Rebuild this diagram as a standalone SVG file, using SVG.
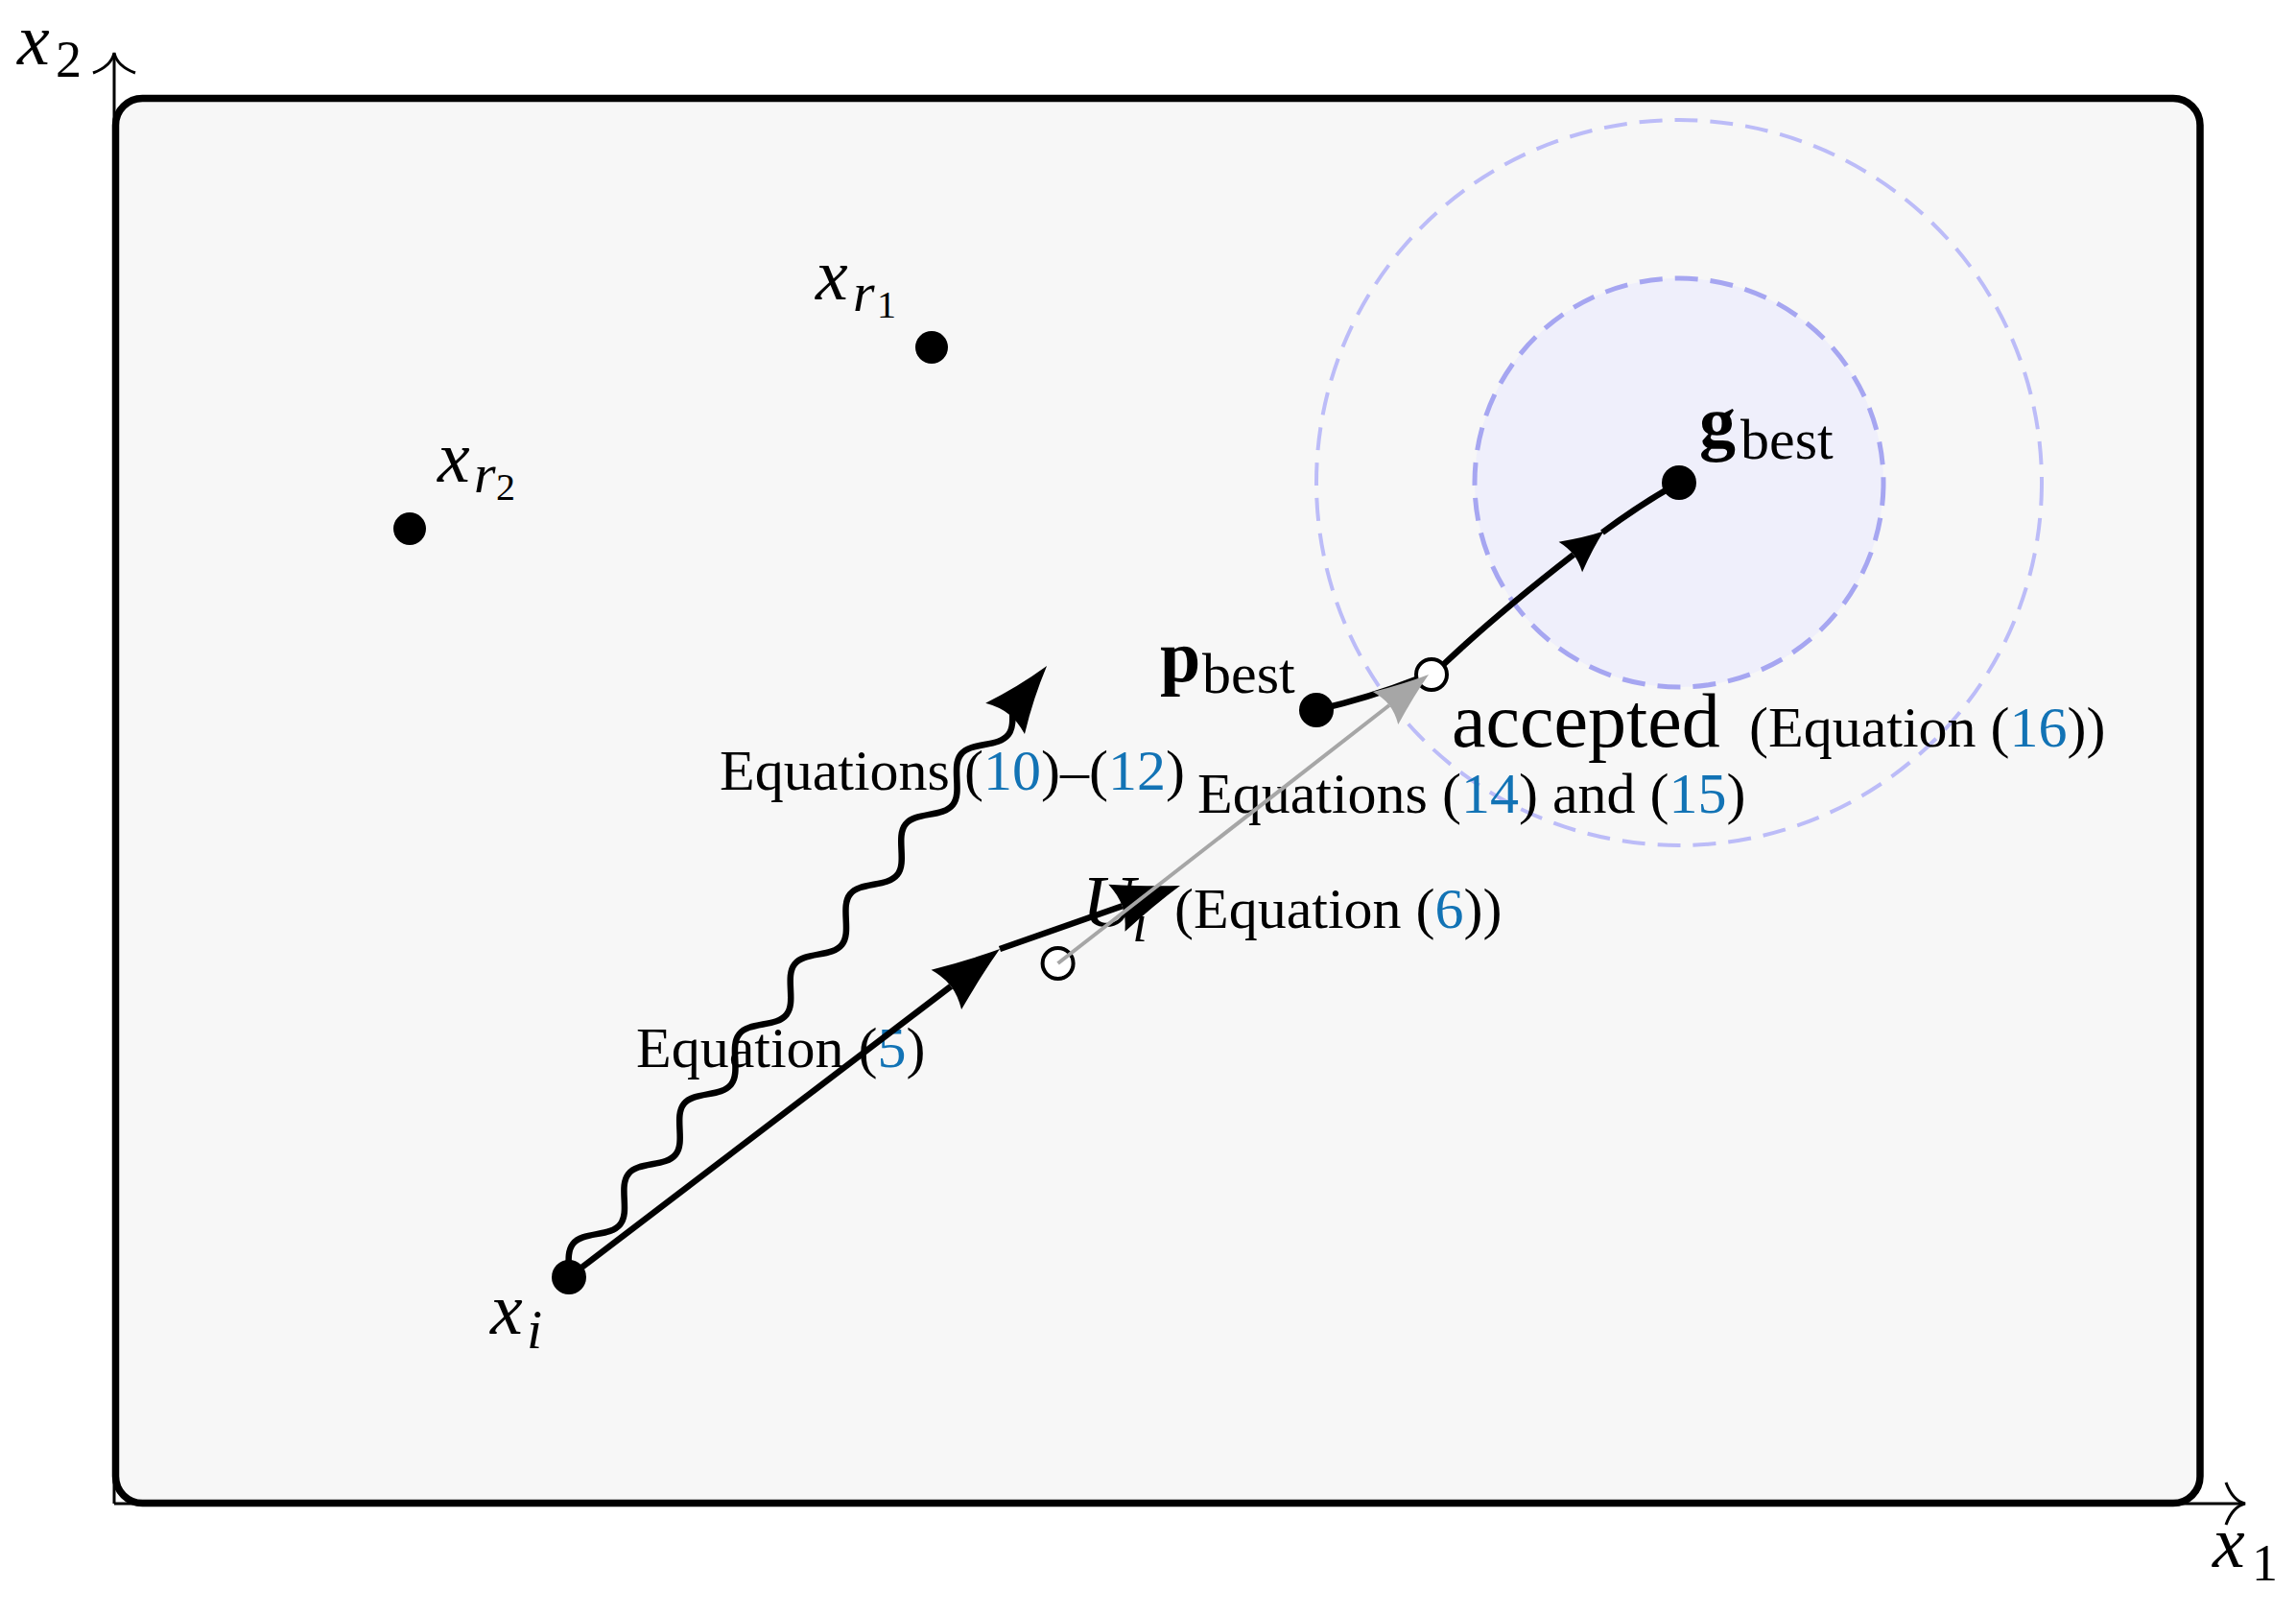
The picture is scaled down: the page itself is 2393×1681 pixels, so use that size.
<svg xmlns="http://www.w3.org/2000/svg" width="2393" height="1681" viewBox="0 0 2393 1681">
<style>
.t{font-family:"Liberation Serif","DejaVu Serif",serif;font-size:60px;fill:#000}
.m{font-family:"Liberation Serif","DejaVu Serif",serif;font-style:italic;font-size:76px;fill:#000}
.b{font-family:"Liberation Serif","DejaVu Serif",serif;font-weight:bold;font-size:76px;fill:#000}
.sub{font-size:58px}
.d1{font-size:54px}
.d2{font-size:40px}
.big{font-size:80px}
.n{fill:#1273b5}
.ln{fill:none;stroke:#000;stroke-width:6.5}
.ax{fill:none;stroke:#000;stroke-width:3}
.dot{fill:#000}
.open{fill:#fff;stroke:#000;stroke-width:4}
</style>
<defs>
<marker id="big" viewBox="-80 -30 90 60" markerWidth="90" markerHeight="60" refX="-64" refY="0" orient="auto" markerUnits="userSpaceOnUse">
<path d="M0,0 Q-32,-10 -70,-26 Q-64,-12 -64,0 Q-64,12 -70,26 Q-32,10 0,0 Z" fill="#000"/>
</marker>
<marker id="small" viewBox="-50 -24 54 48" markerWidth="54" markerHeight="48" refX="-40" refY="0" orient="auto" markerUnits="userSpaceOnUse">
<path d="M0,0 Q-20,-7 -44,-20 Q-40,-9 -40,0 Q-40,9 -44,20 Q-20,7 0,0 Z" fill="#000"/>
</marker>
<marker id="gray" viewBox="-62 -25 66 50" markerWidth="66" markerHeight="50" refX="-52" refY="0" orient="auto" markerUnits="userSpaceOnUse">
<path d="M0,0 Q-26,-8 -57,-21.5 Q-52,-10 -52,0 Q-52,10 -57,21.5 Q-26,8 0,0 Z" fill="#a6a6a6"/>
</marker>
</defs>
<rect x="0" y="0" width="2393" height="1681" fill="#fff"/>
<g id="axes">
<path class="ax" d="M119,1567 L119,57"/>
<path class="ax" d="M97,76 Q116,69 119,55 Q122,69 141,76"/>
<path class="ax" d="M119,1567 L2338,1567"/>
<path class="ax" d="M2320,1545 Q2327,1564 2340,1567 Q2327,1570 2320,1589"/>
<text class="m" x="18" y="67">x</text>
<text class="t d1" x="58" y="80">2</text>
<text class="m" x="2306" y="1633">x</text>
<text class="t d1" x="2347" y="1647">1</text>
</g>
<g id="domain">
<rect x="120.5" y="102.5" width="2172.5" height="1464" rx="28" ry="28" fill="#f7f7f7" stroke="#000" stroke-width="7.5"/>
</g>
<g id="region">
<circle cx="1750" cy="503" r="378" fill="none" stroke="#bcbcf8" stroke-width="4" stroke-dasharray="24 13"/>
<circle cx="1750" cy="503" r="213" fill="#efeffb" stroke="#a6a6f1" stroke-width="5" stroke-dasharray="24 13"/>
</g>
<g id="node-xr1">
<circle class="dot" cx="971" cy="362" r="17"/>
<text class="m" x="850" y="312">x</text>
<text class="m sub" x="889" y="324">r</text>
<text class="t d2" x="914" y="331">1</text>
</g>
<g id="node-xr2">
<circle class="dot" cx="427" cy="551" r="17"/>
<text class="m" x="456" y="502">x</text>
<text class="m sub" x="494" y="513">r</text>
<text class="t d2" x="517" y="521">2</text>
</g>
<g id="node-xi">
<circle class="dot" cx="593" cy="1331" r="18"/>
<text class="m" x="511" y="1390">x</text>
<text class="m sub" x="549" y="1405">i</text>
</g>
<g id="node-pbest">
<circle class="dot" cx="1372" cy="740" r="18"/>
<text class="b" x="1209" y="710">p</text>
<text class="t" x="1253" y="722">best</text>
</g>
<g id="node-gbest">
<circle class="dot" cx="1750" cy="503" r="18"/>
<text class="b" x="1771" y="466">g</text>
<text class="t" x="1814" y="478">best</text>
</g>
<g id="node-ui">
<circle class="open" cx="1102.6" cy="1004" r="16"/>
<text class="m" x="1128" y="965">U</text>
<text class="m sub" x="1180" y="981">i</text>
<text class="t" x="1224" y="967">(Equation (<tspan class="n">6</tspan>))</text>
</g>
<g id="node-accepted">
<circle class="open" cx="1492" cy="703" r="16"/>
<text class="t big" x="1513" y="778">accepted</text>
<text class="t" x="1823" y="778">(Equation (<tspan class="n">16</tspan>))</text>
</g>
<g id="connectors">
<text class="t" x="663" y="1112">Equation (<tspan class="n">5</tspan>)</text>
<text class="t" x="750" y="823">Equations (<tspan class="n">10</tspan>)–(<tspan class="n">12</tspan>)</text>
<text class="t" x="1248" y="847">Equations (<tspan class="n">14</tspan>) and (<tspan class="n">15</tspan>)</text>
<path class="ln" d="M593,1331 L991.1,1027.8" marker-end="url(#big)"/>
<path class="ln" d="M1042,989 L1169.6,944.2" marker-end="url(#big)"/>
<g transform="translate(592.9 1322.6) rotate(-51.6)">
<path class="ln" d="M0,0 c 7.58,-6.66 14.83,-13 23.25,-13 s 15.67,6.34 23.25,13 s 14.83,13 23.25,13 s 15.67,-6.34 23.25,-13 s 14.83,-13 23.25,-13 s 15.67,6.34 23.25,13 s 14.83,13 23.25,13 s 15.67,-6.34 23.25,-13 s 14.83,-13 23.25,-13 s 15.67,6.34 23.25,13 s 14.83,13 23.25,13 s 15.67,-6.34 23.25,-13 s 14.83,-13 23.25,-13 s 15.67,6.34 23.25,13 s 14.83,13 23.25,13 s 15.67,-6.34 23.25,-13 s 14.83,-13 23.25,-13 s 15.67,6.34 23.25,13 s 14.83,13 23.25,13 s 15.67,-6.34 23.25,-13 s 14.83,-13 23.25,-13 s 15.67,6.34 23.25,13 s 14.83,13 23.25,13 s 15.67,-6.34 23.25,-13 s 14.83,-13 23.25,-13 s 15.67,6.34 23.25,13 s 14.83,13 23.25,13 s 15.67,-6.34 23.25,-13 s 14.83,-13 23.25,-13 s 15.67,6.34 23.25,13 s 14.83,13 23.25,13 s 15.67,-6.34 23.25,-13 l 16,0"/>
<path d="M802,0 Q766,-10 732,-26 Q738,-12 738,0 Q738,12 732,26 Q766,10 802,0 Z" fill="#000"/>
</g>
<path class="ln" d="M1372,740 Q1428,727 1476,708"/>
<path class="ln" d="M1505,692 Q1560,640 1640,578" marker-end="url(#small)"/>
<path class="ln" d="M1670,555 Q1712,524 1750,503"/>
<path d="M1102.6,1004 L1448,735" fill="none" stroke="#a6a6a6" stroke-width="4" marker-end="url(#gray)"/>
</g>
</svg>
